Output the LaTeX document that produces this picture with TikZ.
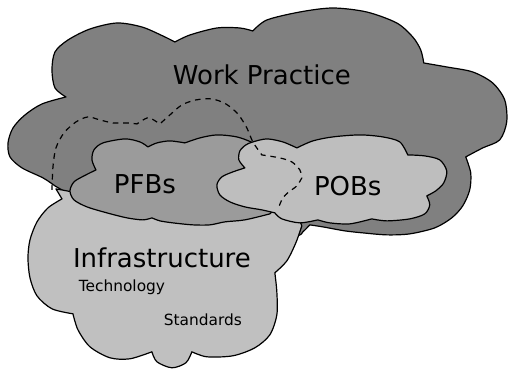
\documentclass[tikz,border=0pt]{standalone}
\usepackage{fontspec}
\setmainfont{DejaVu Sans}
\definecolor{practice}{RGB}{128,128,128}
\definecolor{infra}{RGB}{192,192,192}
\definecolor{pfbgray}{RGB}{155,155,155}
\definecolor{pobgray}{RGB}{190,190,190}

\begin{document}
\begin{tikzpicture}[x=0.5pt, y=-0.5pt,
  blob/.style={draw=black, line width=0.6pt, line join=round},
  dashline/.style={line width=0.6pt, dash pattern=on 2.8pt off 2.4pt},
  bigtext/.style={font=\fontsize{13}{15}\selectfont, anchor=base},
  smalltext/.style={font=\fontsize{7.7}{9}\selectfont, anchor=base}]
  \fill[white] (0,0) rectangle (508,370);

  % work practice
  \filldraw[blob, fill=practice]
    plot[smooth] coordinates {(66,97) (55,88) (52,70) (55,52) (68,40) (90,29) (117,23) (142,27) (163,36) (175,42)}
    -- plot[smooth] coordinates {(175,42) (190,35) (217,28) (240,28) (253,31)}
    -- plot[smooth] coordinates {(253,31) (267,20) (300,12) (333,8) (367,12) (397,23) (413,37) (421,50) (424,63)}
    -- plot[smooth] coordinates {(424,63) (447,67) (473,72) (493,83) (505,100) (507,122) (500,140) (483,148) (466,157)}
    -- plot[smooth] coordinates {(466,157) (471,173) (470,190) (463,206) (452,218) (435,228) (410,234) (387,235) (363,233) (345,231) (323,227) (310,225)}
    -- plot[smooth] coordinates {(310,225) (303,232) (296,236) (250,240) (150,230) (90,205) (55,186)}
    -- plot[smooth] coordinates {(55,186) (43,178) (22,168) (10,157) (8,143) (13,128) (25,115) (42,104) (66,97)}
    -- cycle;

  % infrastructure
  \filldraw[blob, fill=infra]
    plot[smooth] coordinates {(62,199) (48,208) (37,222) (30,240) (28,258) (30,278) (37,296) (52,309) (73,314)}
    -- plot[smooth] coordinates {(73,314) (78,330) (90,347) (110,358) (130,359) (152,352)}
    -- plot[smooth] coordinates {(152,352) (157,362) (172,368) (186,363) (192,352)}
    -- plot[smooth] coordinates {(192,352) (207,357) (233,356) (255,348) (270,335) (277,315) (277,292) (275,273)}
    -- plot[smooth] coordinates {(275,273) (287,261) (296,243) (302,226)}
    -- plot[smooth] coordinates {(302,226) (285,212) (200,208) (110,200) (72,192) (56,189)}
    -- cycle;

  % PFBs
  \filldraw[blob, fill=pfbgray]
    plot[smooth] coordinates {(96,170) (92,160) (94,150) (103,143) (125,139) (140,142) (148,147)}
    -- plot[smooth] coordinates {(148,147) (157,143) (170,141) (185,143)}
    -- plot[smooth] coordinates {(185,143) (200,138) (217,135) (237,137) (253,143) (265,152) (276,172) (281,198) (270,214)}
    -- plot[smooth] coordinates {(270,214) (245,220) (225,222) (210,225) (193,225) (173,223) (160,221) (152,218)}
    -- plot[smooth] coordinates {(152,218) (143,220) (127,218) (107,213) (87,207) (74,200) (70,191) (74,182) (84,176) (96,170)}
    -- cycle;

  % POBs
  \filldraw[blob, fill=pobgray]
    plot[smooth] coordinates {(245,168) (239,160) (240,151) (246,145) (253,142) (267,139) (283,142) (297,148)}
    -- plot[smooth] coordinates {(297,148) (313,141) (333,137) (360,135) (383,137) (400,142) (408,155)}
    -- plot[smooth] coordinates {(408,155) (425,156) (440,160) (447,171) (444,183) (436,191) (427,196)}
    -- plot[smooth] coordinates {(427,196) (430,205) (425,214) (410,219) (387,221) (372,219)}
    -- plot[smooth] coordinates {(372,219) (350,224) (330,223) (318,220)}
    -- plot[smooth] coordinates {(318,220) (300,223) (282,219) (275,213)}
    -- plot[smooth] coordinates {(275,213) (262,210) (245,207) (230,202) (220,195) (217,185) (222,177) (233,172) (245,168)}
    -- cycle;

  % dashed boundary
  \draw[dashline]
    plot[smooth] coordinates {(52,190) (53,167) (56,148) (64,133) (76,122) (88,117) (100,120) (113,123) (127,123) (137,124)}
    -- plot[smooth] coordinates {(137,124) (145,119) (150,118) (160,124)}
    -- plot[smooth] coordinates {(160,124) (170,115) (182,105) (196,100) (212,99) (226,104) (238,114) (247,128) (253,142) (262,155)}
    -- plot[smooth] coordinates {(262,155) (280,158) (292,162) (300,170) (302,178)}
    -- plot[smooth] coordinates {(302,178) (297,186) (289,192) (283,198) (279,207)};

  \node[bigtext] (wp) at (262,85) {Work Practice};
  \node[bigtext] (pfbs) at (145,194) {PFBs};
  \node[bigtext] (pobs) at (348,196) {POBs};
  \node[bigtext] (infl) at (162,268) {Infrastructure};
  \node[smalltext] (tech) at (122,292) {Technology};
  \node[smalltext] (std) at (203,326) {Standards};
\end{tikzpicture}
\end{document}
